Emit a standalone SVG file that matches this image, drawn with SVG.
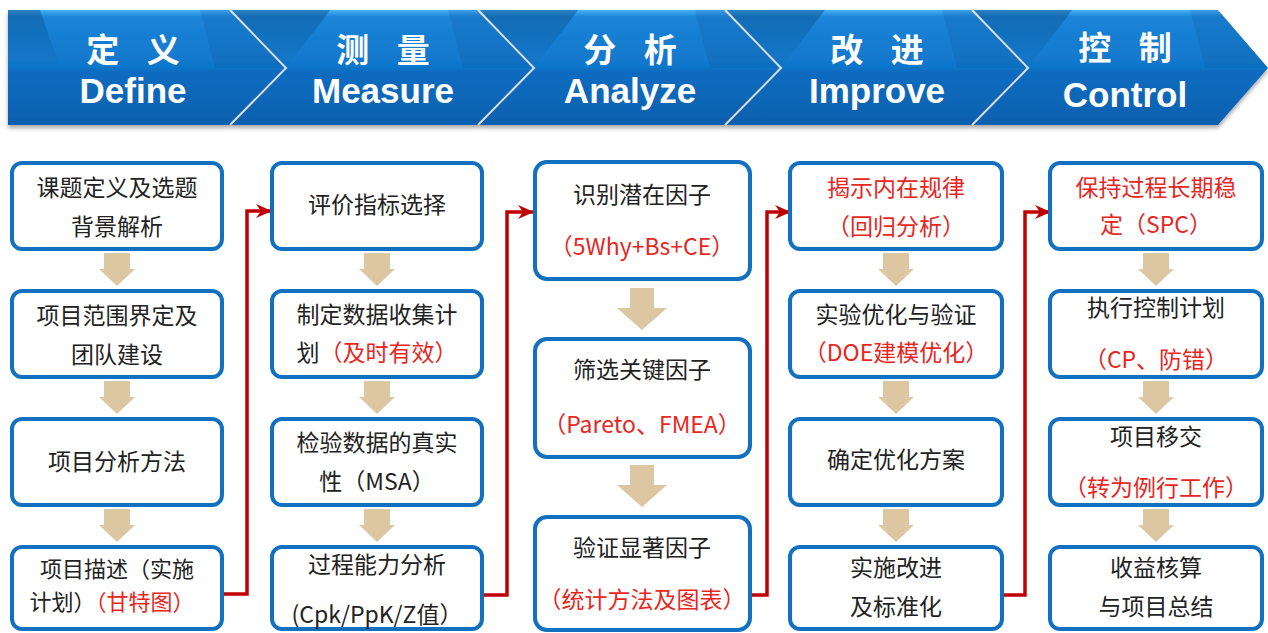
<svg xmlns="http://www.w3.org/2000/svg" width="1268" height="633" viewBox="0 0 1268 633">
<style>
.box{fill:#fff;stroke:#1170C0;stroke-width:4}
.t{font-family:"Noto Sans CJK SC","Noto Sans",sans-serif;font-size:23px;fill:#222;text-anchor:middle}
.s{font-size:22px}
.r{fill:#E8261E}
.hz{font-family:"Noto Sans CJK SC",sans-serif;font-weight:bold;font-size:33px;letter-spacing:10px;fill:#fff;text-anchor:middle}
.he{font-family:"Liberation Sans",Arial,sans-serif;font-weight:bold;font-size:35px;fill:#fff;text-anchor:middle}
.chev{fill:url(#gb)}
.sep{fill:none;stroke:#dcdcdc;stroke-width:2}
.facet{fill:url(#gf)}
.tipf{fill:#0a4f92;opacity:0.18}
.conn{fill:none;stroke:#C00000;stroke-width:3.5;marker-end:url(#ah)}
.ba{fill:#DDC7A3}
</style>
<defs>
<linearGradient id="gb" x1="0" y1="0" x2="0" y2="1">
<stop offset="0" stop-color="#4AB0F5"/>
<stop offset="0.06" stop-color="#1C84D8"/>
<stop offset="0.5" stop-color="#1076CA"/>
<stop offset="0.53" stop-color="#0C6CC0"/>
<stop offset="1" stop-color="#0960AE"/>
</linearGradient>
<linearGradient id="gf" x1="0" y1="0" x2="0" y2="1">
<stop offset="0" stop-color="#04477f" stop-opacity="0.45"/>
<stop offset="1" stop-color="#04477f" stop-opacity="0"/>
</linearGradient>
<filter id="sh" x="-5%" y="-10%" width="110%" height="130%">
<feGaussianBlur in="SourceAlpha" stdDeviation="2"/>
<feOffset dy="3" result="o"/>
<feComponentTransfer><feFuncA type="linear" slope="0.35"/></feComponentTransfer>
<feMerge><feMergeNode/><feMergeNode in="SourceGraphic"/></feMerge>
</filter>
<marker id="ah" markerUnits="userSpaceOnUse" markerWidth="16" markerHeight="16" viewBox="0 0 16 16" refX="15" refY="8" orient="auto">
<path d="M0,1 L16,8 L0,15 L5,8 Z" fill="#C00000"/>
</marker>
<path id="sa" d="M-13,0 H13 V16 H18 L0,33 L-18,16 H-13 Z"/>
<path id="la" d="M-12,0 H12 V20 H25 L0,42 L-25,20 H-12 Z"/>
</defs>

<g id="banner" filter="url(#sh)">
<path class="chev" d="M8,10 H230 L286,68 L230,125 H8 Z"/>
<path class="chev" d="M230,10 H478 L534,68 L478,125 H230 L286,68 Z"/>
<path class="chev" d="M478,10 H725 L781,68 L725,125 H478 L534,68 Z"/>
<path class="chev" d="M725,10 H972 L1028,68 L972,125 H725 L781,68 Z"/>
<path class="chev" d="M972,10 H1218 L1268,68 L1218,125 H972 L1028,68 Z"/>
</g>
<g id="banner-shading">
<path class="facet" d="M8,10 H40 L60,68 H8 Z"/>
<path class="facet" d="M232,10 H330 L286,68 Z"/>
<path class="facet" d="M480,10 H578 L534,68 Z"/>
<path class="facet" d="M727,10 H825 L781,68 Z"/>
<path class="facet" d="M974,10 H1072 L1028,68 Z"/>
<path class="tipf" d="M200,10 H230 L286,68 H215 Z"/>
<path class="tipf" d="M448,10 H478 L534,68 H463 Z"/>
<path class="tipf" d="M695,10 H725 L781,68 H710 Z"/>
<path class="tipf" d="M942,10 H972 L1028,68 H957 Z"/>
<path class="tipf" d="M1190,10 H1218 L1268,68 H1205 Z"/>
<polyline class="sep" points="230,10 286,68 230,125"/>
<polyline class="sep" points="478,10 534,68 478,125"/>
<polyline class="sep" points="725,10 781,68 725,125"/>
<polyline class="sep" points="972,10 1028,68 972,125"/>
</g>

<g id="phase-define"><text class="hz" x="138" y="62">定 义</text><text class="he" x="133" y="103">Define</text></g>
<g id="phase-measure"><text class="hz" x="388" y="62">测 量</text><text class="he" x="383" y="103">Measure</text></g>
<g id="phase-analyze"><text class="hz" x="635" y="62">分 析</text><text class="he" x="630" y="103">Analyze</text></g>
<g id="phase-improve"><text class="hz" x="882" y="62">改 进</text><text class="he" x="877" y="103">Improve</text></g>
<g id="phase-control"><text class="hz" x="1130" y="60">控 制</text><text class="he" x="1125" y="107">Control</text></g>

<g id="flow-arrows">
<use href="#sa" class="ba" x="117" y="253"/>
<use href="#sa" class="ba" x="117" y="381"/>
<use href="#sa" class="ba" x="117" y="509"/>
<use href="#sa" class="ba" x="377" y="253"/>
<use href="#sa" class="ba" x="377" y="381"/>
<use href="#sa" class="ba" x="377" y="509"/>
<use href="#la" class="ba" x="642" y="288"/>
<use href="#la" class="ba" x="642" y="465"/>
<use href="#sa" class="ba" x="896" y="253"/>
<use href="#sa" class="ba" x="896" y="381"/>
<use href="#sa" class="ba" x="896" y="509"/>
<use href="#sa" class="ba" x="1156" y="253"/>
<use href="#sa" class="ba" x="1156" y="381"/>
<use href="#sa" class="ba" x="1156" y="509"/>
</g>

<g id="connectors">
<path class="conn" d="M222,594 H247 V211 H271"/>
<path class="conn" d="M482,595 H507 V212 H533"/>
<path class="conn" d="M750,595 H767 V212 H790"/>
<path class="conn" d="M1002,595 H1025 V212 H1050"/>
</g>

<g id="d1"><rect class="box" x="12" y="163" width="210" height="86" rx="10"/>
<text class="t" x="117" y="196">课题定义及选题</text><text class="t" x="117" y="235">背景解析</text></g>
<g id="d2"><rect class="box" x="12" y="291" width="210" height="86" rx="10"/>
<text class="t" x="117" y="324">项目范围界定及</text><text class="t" x="117" y="363">团队建设</text></g>
<g id="d3"><rect class="box" x="12" y="419" width="210" height="86" rx="10"/>
<text class="t" x="117" y="470">项目分析方法</text></g>
<g id="d4"><rect class="box" x="12" y="547" width="210" height="82" rx="10"/>
<text class="t s" x="117" y="577">项目描述（实施</text><text class="t s" x="112" y="610">计划）<tspan class="r">（甘特图）</tspan></text></g>

<g id="m1"><rect class="box" x="272" y="163" width="210" height="86" rx="10"/>
<text class="t" x="377" y="213">评价指标选择</text></g>
<g id="m2"><rect class="box" x="272" y="291" width="210" height="86" rx="10"/>
<text class="t" x="377" y="323">制定数据收集计</text><text class="t" x="377" y="361">划<tspan class="r">（及时有效）</tspan></text></g>
<g id="m3"><rect class="box" x="272" y="419" width="210" height="86" rx="10"/>
<text class="t" x="377" y="451">检验数据的真实</text><text class="t" x="377" y="490">性（MSA）</text></g>
<g id="m4"><rect class="box" x="272" y="547" width="210" height="82" rx="10"/>
<text class="t" x="377" y="573">过程能力分析</text><text class="t" x="377" y="623">(Cpk/PpK/Z值）</text></g>

<g id="a1"><rect class="box" x="535" y="162" width="215" height="117" rx="12"/>
<text class="t" x="642" y="203">识别潜在因子</text><text class="t r" x="642" y="255">（5Why+Bs+CE）</text></g>
<g id="a2"><rect class="box" x="535" y="339" width="215" height="118" rx="12"/>
<text class="t" x="642" y="378">筛选关键因子</text><text class="t r" x="642" y="433">（Pareto、FMEA）</text></g>
<g id="a3"><rect class="box" x="535" y="517" width="215" height="113" rx="12"/>
<text class="t" x="642" y="556">验证显著因子</text><text class="t r" x="642" y="608">（统计方法及图表）</text></g>

<g id="i1"><rect class="box" x="790" y="163" width="212" height="86" rx="10"/>
<text class="t r" x="896" y="196">揭示内在规律</text><text class="t r" x="896" y="235">（回归分析）</text></g>
<g id="i2"><rect class="box" x="790" y="291" width="212" height="86" rx="10"/>
<text class="t" x="896" y="323">实验优化与验证</text><text class="t r" x="896" y="361">（DOE建模优化）</text></g>
<g id="i3"><rect class="box" x="790" y="419" width="212" height="86" rx="10"/>
<text class="t" x="896" y="468">确定优化方案</text></g>
<g id="i4"><rect class="box" x="790" y="547" width="212" height="82" rx="10"/>
<text class="t" x="896" y="576">实施改进</text><text class="t" x="896" y="615">及标准化</text></g>

<g id="c1"><rect class="box" x="1050" y="163" width="212" height="86" rx="10"/>
<text class="t r" x="1156" y="196">保持过程长期稳</text><text class="t r" x="1156" y="233">定（SPC）</text></g>
<g id="c2"><rect class="box" x="1050" y="291" width="212" height="86" rx="10"/>
<text class="t" x="1156" y="316">执行控制计划</text><text class="t r" x="1156" y="368">（CP、防错）</text></g>
<g id="c3"><rect class="box" x="1050" y="419" width="212" height="86" rx="10"/>
<text class="t" x="1156" y="445">项目移交</text><text class="t r" x="1156" y="496">（转为例行工作）</text></g>
<g id="c4"><rect class="box" x="1050" y="547" width="212" height="82" rx="10"/>
<text class="t" x="1156" y="576">收益核算</text><text class="t" x="1156" y="615">与项目总结</text></g>
</svg>
